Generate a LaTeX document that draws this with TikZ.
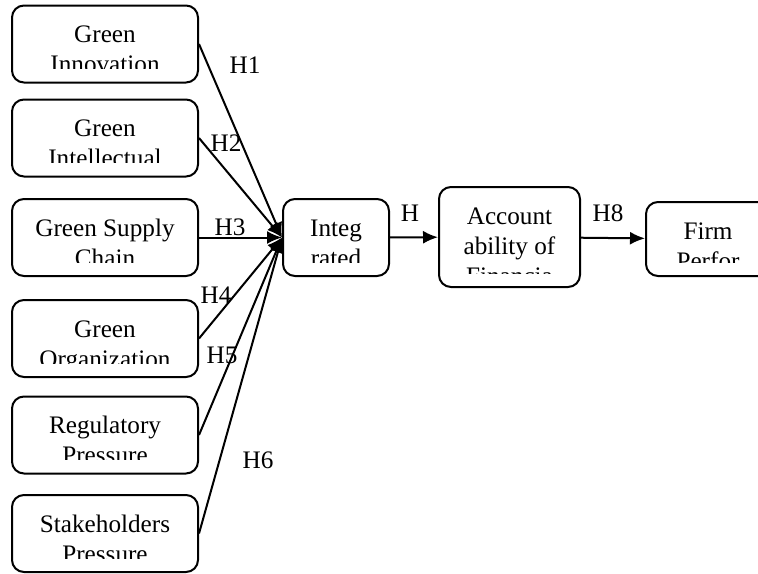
\documentclass[tikz,border=0pt]{standalone}
\usepackage{fontspec}
\setmainfont{Liberation Serif}
\usetikzlibrary{arrows.meta}

\tikzset{
  box/.style={draw, line width=1pt, rounded corners=6pt, minimum width=93pt, minimum height=38.5pt, inner sep=0pt},
  boxtext/.style={anchor=north, align=center, inner sep=0pt, font=\fontsize{12.6}{15}\selectfont},
  hyp/.style={inner sep=0pt, font=\fontsize{12.6}{15}\selectfont},
  link/.style={line width=1pt, -{Latex[length=7.5pt,width=6.5pt]}}
}
\newcommand{\cutlabel}[3]{%
  \begin{scope}
    \clip (#1.north west) rectangle ([yshift=7.5pt]#1.south east);
    \node[boxtext] (#2) at ([yshift=-8.5pt]#1.north) {\strut #3};
  \end{scope}}

\begin{document}
\begin{tikzpicture}[x=0.5pt, y=-0.5pt]
\useasboundingbox (0,0) rectangle (758,573);
\node[box] (innov) at (105,44) {};
\node[box] (intel) at (105,138) {};
\node[box] (supply) at (105,237.5) {};
\node[box] (organ) at (105,338.5) {};
\node[box] (regul) at (105,435) {};
\node[box] (stake) at (105,533.5) {};
\node[box, minimum width=53pt] (integ) at (336,237.5) {};
\node[box, minimum width=70.5pt, minimum height=50pt] (acc) at (509.5,237) {};
\node[box, minimum width=62pt, minimum height=37pt] (firm) at (708,239) {};
\cutlabel{innov}{innovtext}{Green\\Innovation}
\cutlabel{intel}{inteltext}{Green\\Intellectual}
\cutlabel{supply}{supplytext}{Green Supply\\Chain}
\cutlabel{organ}{organtext}{Green\\Organization}
\cutlabel{regul}{regultext}{Regulatory\\Pressure}
\cutlabel{stake}{staketext}{Stakeholders\\Pressure}
\cutlabel{integ}{integtext}{Integ\\rated}
\cutlabel{acc}{acctext}{Account\\ability of\\Financia}
\cutlabel{firm}{firmtext}{Firm\\Perfor}
\draw[link] (innov.east) -- (integ.west);
\draw[link] (intel.east) -- (integ.west);
\draw[link] (supply.east) -- (integ.west);
\draw[link] (organ.east) -- (integ.west);
\draw[link] (regul.east) -- (integ.west);
\draw[link] (stake.east) -- (integ.west);
\draw[link] (integ) -- (acc);
\draw[link] (acc) -- (firm);
\node[hyp] (h1) at (245,65) {H1};
\node[hyp] (h2) at (226,143) {H2};
\node[hyp] (h3) at (230,227) {H3};
\node[hyp] (h4) at (216,295) {H4};
\node[hyp] (h5) at (222,355) {H5};
\node[hyp] (h6) at (258,460) {H6};
\node[hyp] (h7) at (410,213) {H};
\node[hyp] (h8) at (608,213) {H8};
\end{tikzpicture}
\end{document}
